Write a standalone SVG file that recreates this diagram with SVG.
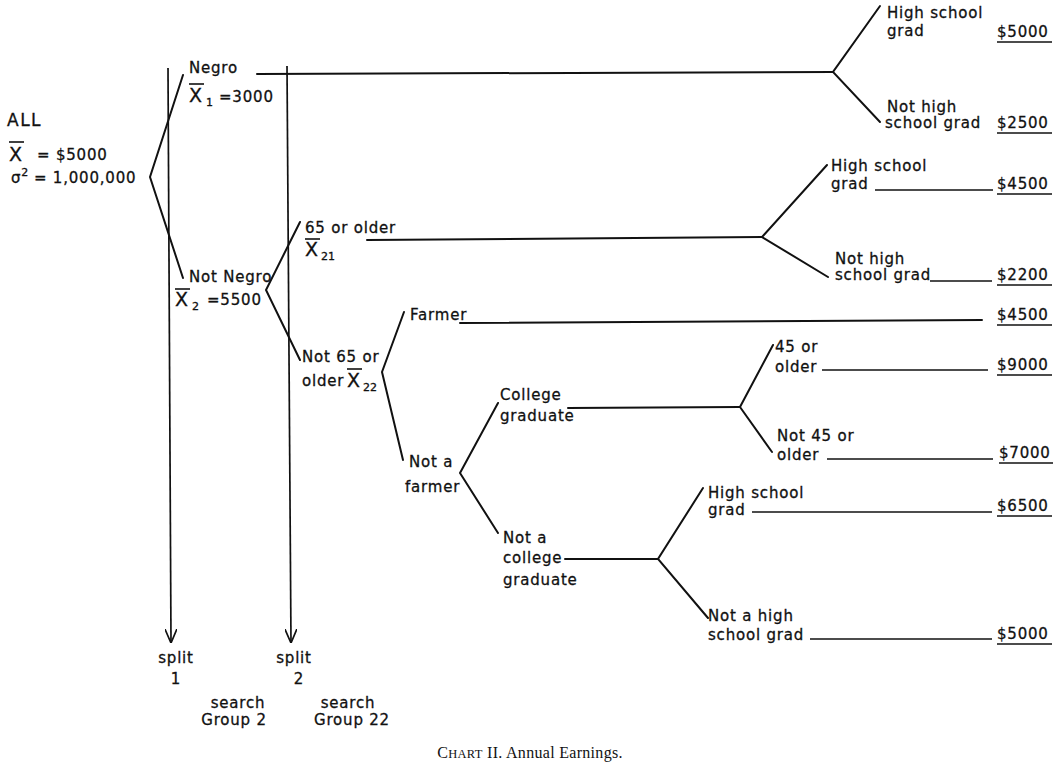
<svg xmlns="http://www.w3.org/2000/svg" width="1060" height="768" viewBox="0 0 1060 768">
<defs>
<style>
text{font-family:"DejaVu Sans","Liberation Sans",sans-serif;font-size:15px;letter-spacing:0.8px;fill:#111;stroke:#111;stroke-width:0.3px}
.sub{font-size:11px;letter-spacing:0}
.x{font-size:19px;letter-spacing:0}
.big{font-size:17px;letter-spacing:1.5px}
.cap{font-family:"Liberation Serif","DejaVu Serif",serif;font-size:16px;letter-spacing:0.3px;stroke:none}
.ln{stroke:#111;stroke-width:2;fill:none;stroke-linecap:round;stroke-linejoin:miter}
.thin{stroke:#111;stroke-width:1.7;fill:none}
.bar{stroke:#111;stroke-width:1.6}
.ul{stroke:#111;stroke-width:1.6}
</style>
<marker id="arr" viewBox="0 0 14 12" refX="14" refY="6" markerWidth="14" markerHeight="12" markerUnits="userSpaceOnUse" orient="auto">
<path d="M0,0 L14,6 L0,12" fill="none" stroke="#111" stroke-width="1.7"/>
</marker>
</defs>
<rect width="1060" height="768" fill="#fff"/>

<g id="connectors">
<line class="thin" x1="168" y1="68" x2="171" y2="643" marker-end="url(#arr)"/>
<line class="thin" x1="287" y1="66" x2="291" y2="643" marker-end="url(#arr)"/>
<polyline class="ln" points="183,75 150,177 183,278"/>
<line class="ln" x1="257" y1="74" x2="833" y2="72"/>
<polyline class="ln" points="880,6 833,72 880,122"/>
<polyline class="ln" points="300,222 266,290 300,360"/>
<line class="ln" x1="367" y1="240" x2="762" y2="237"/>
<polyline class="ln" points="827,165 762,237 828,277"/>
<line class="thin" x1="875" y1="190" x2="993" y2="190"/>
<line class="thin" x1="930" y1="281" x2="992" y2="281"/>
<polyline class="ln" points="404,312 382,372 403,460"/>
<line class="ln" x1="460" y1="323" x2="982" y2="320"/>
<polyline class="ln" points="498,403 460,473 498,533"/>
<line class="ln" x1="568" y1="408" x2="740" y2="407"/>
<polyline class="ln" points="773,345 740,407 772,452"/>
<line class="thin" x1="822" y1="370" x2="988" y2="370"/>
<line class="thin" x1="827" y1="459" x2="993" y2="459"/>
<line class="ln" x1="565" y1="559" x2="658" y2="559"/>
<polyline class="ln" points="703,488 658,559 708,618"/>
<line class="thin" x1="752" y1="512" x2="992" y2="512"/>
<line class="thin" x1="810" y1="639" x2="992" y2="639"/>
</g>

<g id="all">
<text class="big" x="7" y="126">ALL</text>
<text class="x" x="9" y="161">X</text>
<line class="bar" x1="9" y1="142" x2="24" y2="142"/>
<text x="37" y="160">= $5000</text>
<text x="11" y="183">σ<tspan class="sub" dy="-7">2</tspan><tspan dy="7"> = 1,000,000</tspan></text>
</g>

<g id="negro">
<text x="189" y="73">Negro</text>
<text class="x" x="189" y="102">X</text>
<line class="bar" x1="189" y1="84" x2="204" y2="84"/>
<text class="sub" x="206" y="106">1</text>
<text x="219" y="102">=3000</text>
</g>

<g id="negro-hs">
<text x="887" y="18">High school</text>
<text x="887" y="36">grad</text>
<text x="997" y="37">$5000</text>
<line class="ul" x1="997" y1="42" x2="1052" y2="42"/>
</g>
<g id="negro-nhs">
<text x="887" y="112">Not high</text>
<text x="885" y="128">school grad</text>
<text x="997" y="128">$2500</text>
<line class="ul" x1="997" y1="133" x2="1052" y2="133"/>
</g>

<g id="not-negro">
<text x="189" y="282">Not Negro</text>
<text class="x" x="175" y="306">X</text>
<line class="bar" x1="175" y1="289" x2="190" y2="289"/>
<text class="sub" x="192" y="310">2</text>
<text x="207" y="305">=5500</text>
</g>

<g id="g21">
<text x="305" y="233">65 or older</text>
<text class="x" x="305" y="256">X</text>
<line class="bar" x1="305" y1="239" x2="320" y2="239"/>
<text class="sub" x="321" y="260">21</text>
</g>
<g id="g21-hs">
<text x="831" y="171">High school</text>
<text x="831" y="189">grad</text>
<text x="997" y="189">$4500</text>
<line class="ul" x1="997" y1="194" x2="1052" y2="194"/>
</g>
<g id="g21-nhs">
<text x="835" y="264">Not high</text>
<text x="835" y="280">school grad</text>
<text x="997" y="280">$2200</text>
<line class="ul" x1="997" y1="285" x2="1052" y2="285"/>
</g>

<g id="g22">
<text x="302" y="362">Not 65 or</text>
<text x="302" y="386">older</text>
<text class="x" x="347" y="387">X</text>
<line class="bar" x1="347" y1="369" x2="362" y2="369"/>
<text class="sub" x="363" y="391">22</text>
</g>

<g id="farmer">
<text x="410" y="320">Farmer</text>
<text x="997" y="320">$4500</text>
<line class="ul" x1="997" y1="325" x2="1052" y2="325"/>
</g>

<g id="not-farmer">
<text x="409" y="467">Not a</text>
<text x="405" y="492">farmer</text>
</g>

<g id="college">
<text x="500" y="400">College</text>
<text x="500" y="421">graduate</text>
</g>
<g id="college-45">
<text x="775" y="352">45 or</text>
<text x="775" y="372">older</text>
<text x="997" y="370">$9000</text>
<line class="ul" x1="997" y1="375" x2="1052" y2="375"/>
</g>
<g id="college-not45">
<text x="777" y="441">Not 45 or</text>
<text x="777" y="460">older</text>
<text x="999" y="458">$7000</text>
<line class="ul" x1="999" y1="463" x2="1053" y2="463"/>
</g>

<g id="not-college">
<text x="503" y="543">Not a</text>
<text x="503" y="563">college</text>
<text x="503" y="585">graduate</text>
</g>
<g id="nc-hs">
<text x="708" y="498">High school</text>
<text x="708" y="515">grad</text>
<text x="997" y="511">$6500</text>
<line class="ul" x1="997" y1="516" x2="1052" y2="516"/>
</g>
<g id="nc-nhs">
<text x="708" y="621">Not a high</text>
<text x="708" y="640">school grad</text>
<text x="997" y="639">$5000</text>
<line class="ul" x1="997" y1="644" x2="1052" y2="644"/>
</g>

<g id="labels">
<text x="176" y="663" text-anchor="middle">split</text>
<text x="176" y="684" text-anchor="middle">1</text>
<text x="294" y="663" text-anchor="middle">split</text>
<text x="299" y="684" text-anchor="middle">2</text>
<text x="238" y="708" text-anchor="middle">search</text>
<text x="234" y="725" text-anchor="middle">Group 2</text>
<text x="348" y="708" text-anchor="middle">search</text>
<text x="352" y="725" text-anchor="middle">Group 22</text>
</g>

<g id="caption">
<text class="cap" x="530" y="758" text-anchor="middle">C<tspan font-size="12.5">HART</tspan> II. Annual Earnings.</text>
</g>
</svg>
